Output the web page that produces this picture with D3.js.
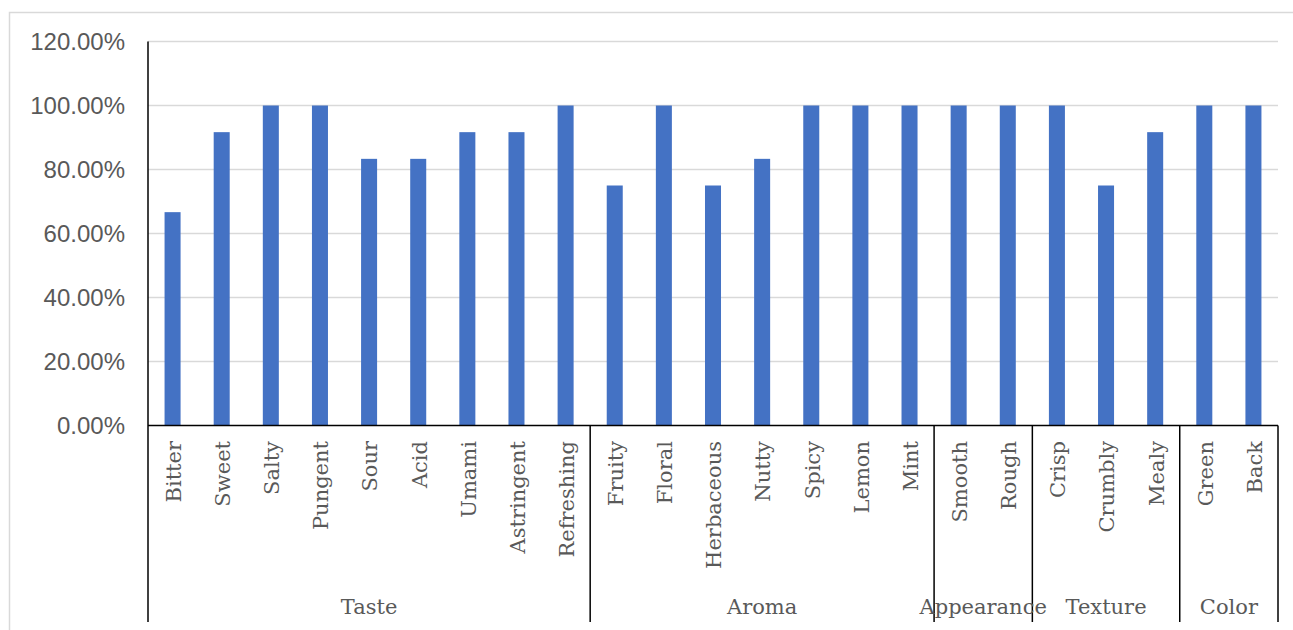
<!DOCTYPE html>
<html>
<head>
<meta charset="utf-8">
<script src="https://cdn.jsdelivr.net/npm/d3@7"></script>
<style>
  html, body { margin: 0; padding: 0; background: #fff; }
  svg { display: block; }
</style>
</head>
<body>
<svg id="chart" width="1293" height="630"></svg>
<script>
// Sensory attributes, their share of positive ratings, and the group each belongs to
const attributes = ["Bitter", "Sweet", "Salty", "Pungent", "Sour", "Acid", "Umami", "Astringent", "Refreshing",
  "Fruity", "Floral", "Herbaceous", "Nutty", "Spicy", "Lemon", "Mint",
  "Smooth", "Rough",
  "Crisp", "Crumbly", "Mealy",
  "Green", "Back"];
const shares = [66.67, 91.67, 100, 100, 83.33, 83.33, 91.67, 91.67, 100,
  75, 100, 75, 83.33, 100, 100, 100,
  100, 100,
  100, 75, 91.67,
  100, 100];
const groupNames = ["Taste", "Aroma", "Appearance", "Texture", "Color"];
const groupSizes = [9, 7, 2, 3, 2];
const yTicks = [0, 20, 40, 60, 80, 100, 120];

const svg = d3.select("#chart");

// Outer chart frame
svg.append("rect")
  .attr("x", 9.5).attr("y", 12.5)
  .attr("width", 1300).attr("height", 640)
  .attr("fill", "none").attr("stroke", "#d9d9d9").attr("stroke-width", 1.5);

const plotLeft = 148, plotRight = 1278, plotTop = 41.5, plotBottom = 425.5, groupBottom = 622;

const x = d3.scaleBand()
  .domain(attributes)
  .range([plotLeft, plotRight])
  .paddingInner(0.674)
  .paddingOuter(0.337);

const y = d3.scaleLinear().domain([0, 120]).range([plotBottom, plotTop]);

// Horizontal gridlines
svg.append("g")
  .selectAll("line")
  .data(yTicks.filter(t => t > 0))
  .join("line")
  .attr("x1", plotLeft).attr("x2", plotRight)
  .attr("y1", d => y(d)).attr("y2", d => y(d))
  .attr("stroke", "#d9d9d9").attr("stroke-width", 1.5);

// Y axis tick labels
const yAxis = d3.axisLeft(y)
  .tickValues(yTicks)
  .tickSize(0)
  .tickPadding(23)
  .tickFormat(d => d.toFixed(2) + "%");
const yg = svg.append("g").attr("transform", `translate(${plotLeft},0)`).call(yAxis);
yg.select(".domain").remove();
yg.selectAll("text")
  .attr("font-family", "'Liberation Sans', Arial, sans-serif")
  .attr("font-size", 24)
  .attr("fill", "#595959");

// Bars
const data = attributes.map((a, i) => ({ name: a, value: shares[i] }));
svg.append("g")
  .selectAll("rect")
  .data(data)
  .join("rect")
  .attr("x", d => x(d.name))
  .attr("width", x.bandwidth())
  .attr("y", d => y(d.value))
  .attr("height", d => y(0) - y(d.value))
  .attr("fill", "#4472c4");

// Category axis line and vertical y axis line
svg.append("line")
  .attr("x1", plotLeft).attr("x2", plotRight)
  .attr("y1", plotBottom).attr("y2", plotBottom)
  .attr("stroke", "#000").attr("stroke-width", 1.5);
svg.append("line")
  .attr("x1", plotLeft).attr("x2", plotLeft)
  .attr("y1", plotTop).attr("y2", groupBottom)
  .attr("stroke", "#000").attr("stroke-width", 1.5);

// Rotated attribute labels
svg.append("g")
  .selectAll("text")
  .data(attributes)
  .join("text")
  .attr("transform", d => `translate(${x(d) + x.bandwidth() / 2 + 1},441) rotate(-90)`)
  .attr("text-anchor", "end")
  .attr("dy", "0.35em")
  .attr("font-family", "'DejaVu Serif', serif")
  .attr("font-size", 21)
  .attr("fill", "#595959")
  .text(d => d);

// Group boundaries and group labels
let start = 0;
const groups = groupNames.map((g, i) => {
  const first = attributes[start];
  const last = attributes[start + groupSizes[i] - 1];
  start += groupSizes[i];
  const step = x.step();
  const x0 = x(first) - x.paddingInner() * step / 2;
  const x1 = x(last) + x.bandwidth() + x.paddingInner() * step / 2;
  return { name: g, x0, x1 };
});

svg.append("g")
  .selectAll("line")
  .data(groups)
  .join("line")
  .attr("x1", d => d.x1).attr("x2", d => d.x1)
  .attr("y1", plotBottom).attr("y2", groupBottom)
  .attr("stroke", "#000").attr("stroke-width", 1.5);

svg.append("g")
  .selectAll("text")
  .data(groups)
  .join("text")
  .attr("x", d => (d.x0 + d.x1) / 2)
  .attr("y", 614)
  .attr("text-anchor", "middle")
  .attr("font-family", "'DejaVu Serif', serif")
  .attr("font-size", 21)
  .attr("fill", "#595959")
  .text(d => d.name);
</script>
</body>
</html>
